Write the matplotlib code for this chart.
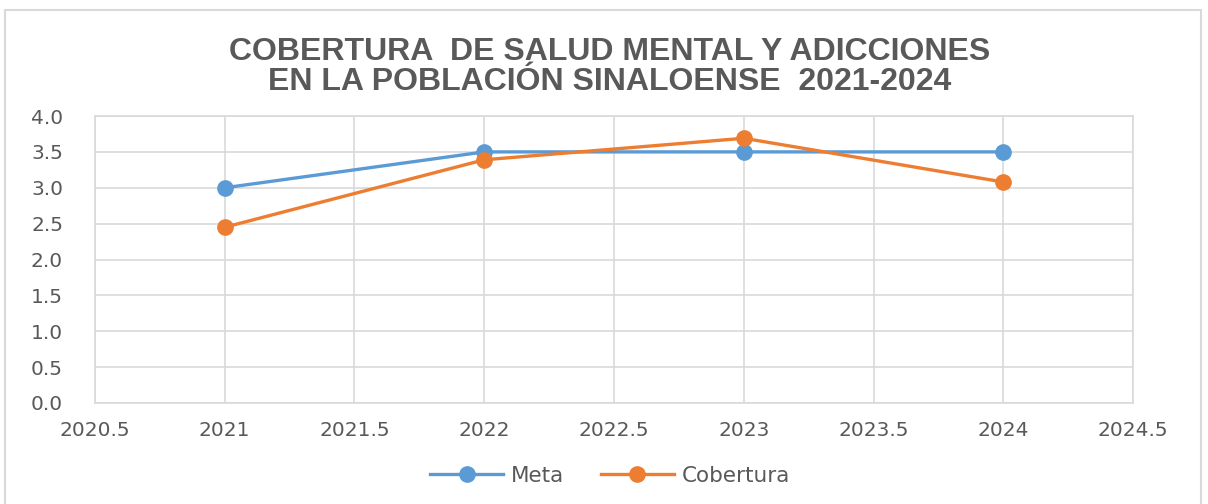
import matplotlib
matplotlib.use("Agg")
import matplotlib.pyplot as plt
from matplotlib.patches import Rectangle

years = [2021, 2022, 2023, 2024]
meta = [3.0, 3.5, 3.5, 3.5]
cobertura = [2.45, 3.39, 3.69, 3.08]
series_names = ["Meta", "Cobertura"]
title = "COBERTURA  DE SALUD MENTAL Y ADICCIONES\nEN LA POBLACIÓN SINALOENSE  2021-2024"

text_gray = "#595959"
grid_gray = "#d9d9d9"
blue = "#5b9bd5"
orange = "#ed7d31"

fig = plt.figure(figsize=(12.08, 5.04), dpi=100)
fig.patches.append(Rectangle((0.004, -0.01), 0.99, 0.99, transform=fig.transFigure,
                             fill=False, edgecolor="#d9d9d9", linewidth=1.5))

ax = fig.add_axes([0.0786, 0.2004, 0.8594, 0.5694])
ax.plot(years, meta, color=blue, lw=2.4, marker="o", ms=11, label=series_names[0])
ax.plot(years, cobertura, color=orange, lw=2.4, marker="o", ms=11, label=series_names[1])

ax.set_xlim(2020.5, 2024.5)
ax.set_ylim(0, 4.0)
ax.set_xticks([2020.5, 2021, 2021.5, 2022, 2022.5, 2023, 2023.5, 2024, 2024.5])
ax.set_xticklabels(["2020.5", "2021", "2021.5", "2022", "2022.5", "2023", "2023.5", "2024", "2024.5"])
ax.set_yticks([i * 0.5 for i in range(9)])
ax.set_yticklabels([f"{i * 0.5:.1f}" for i in range(9)])
ax.grid(True, color=grid_gray, lw=1.2)
ax.set_axisbelow(True)
for s in ax.spines.values():
    s.set_color(grid_gray)
    s.set_linewidth(1.2)
ax.tick_params(length=0, labelsize=14.5, labelcolor=text_gray)
ax.tick_params(axis="x", pad=13)
ax.tick_params(axis="y", pad=23)

fig.text(0.505, 0.868, title, ha="center", va="center", fontsize=23,
         fontweight="bold", color=text_gray, family="Liberation Sans", linespacing=1.0)

fig.legend(loc="center", bbox_to_anchor=(0.505, 0.056), ncol=2, frameon=False,
           fontsize=15.5, labelcolor=text_gray, handlelength=3.4, columnspacing=1.7,
           handletextpad=0.35)

fig.savefig("out.png", dpi=100)
